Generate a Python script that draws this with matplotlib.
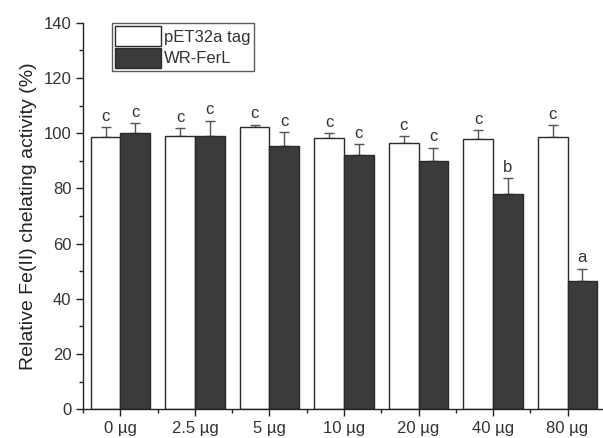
import matplotlib
matplotlib.use("Agg")
import matplotlib.pyplot as plt
import numpy as np
from matplotlib.ticker import MultipleLocator, FixedLocator

plt.rcParams['font.family'] = ['Liberation Sans', 'DejaVu Sans']

categories = ['0 µg', '2.5 µg', '5 µg', '10 µg', '20 µg', '40 µg', '80 µg']
pet_vals = [98.6, 99.1, 102.2, 98.2, 96.6, 97.8, 98.7]
pet_err = [3.6, 2.7, 0.8, 1.8, 2.3, 3.3, 4.1]
wr_vals = [99.9, 98.9, 95.4, 92.0, 89.9, 78.0, 46.4]
wr_err = [3.7, 5.7, 5.0, 4.0, 4.8, 5.7, 4.5]
pet_letters = ['c', 'c', 'c', 'c', 'c', 'c', 'c']
wr_letters = ['c', 'c', 'c', 'c', 'c', 'b', 'a']

txt = '#333333'
edge = '#2a2a2a'
dark = '#3b3b3b'

fig = plt.figure(figsize=(6.03, 4.38), dpi=100)
ax = fig.add_axes([0.138, 0.0655, 0.862, 0.8825])

x = np.arange(len(categories))
w = 0.4
ax.bar(x - w/2, pet_vals, w, color='white', edgecolor=edge, linewidth=1.0,
       label='pET32a tag', zorder=2)
ax.bar(x + w/2, wr_vals, w, color=dark, edgecolor=edge, linewidth=1.0,
       label='WR-FerL', zorder=2)
ax.errorbar(x - w/2, pet_vals, yerr=[np.zeros(len(pet_err)), pet_err], fmt='none',
            ecolor='#555555', elinewidth=1.0, capsize=3.5, capthick=1.0, zorder=1)
ax.errorbar(x + w/2, wr_vals, yerr=[np.zeros(len(wr_err)), wr_err], fmt='none',
            ecolor='#555555', elinewidth=1.0, capsize=3.5, capthick=1.0, zorder=1)

for xi, v, e, l in zip(x - w/2, pet_vals, pet_err, pet_letters):
    ax.annotate(l, (xi, v + e), xytext=(0, 2.5), textcoords='offset points',
                ha='center', va='bottom', fontsize=12, color=txt)
for xi, v, e, l in zip(x + w/2, wr_vals, wr_err, wr_letters):
    ax.annotate(l, (xi, v + e), xytext=(0, 2.5), textcoords='offset points',
                ha='center', va='bottom', fontsize=12, color=txt)

ax.set_ylim(0, 140)
ax.set_xlim(-0.5, 6.476)
ax.yaxis.set_major_locator(MultipleLocator(20))
ax.yaxis.set_minor_locator(MultipleLocator(10))
ax.set_xticks(x)
ax.set_xticklabels(categories)
ax.xaxis.set_minor_locator(FixedLocator(np.arange(-0.5, 7, 1.0)))

for s in ['top', 'right']:
    ax.spines[s].set_visible(False)
for s in ['left', 'bottom']:
    ax.spines[s].set_color('#222222')
    ax.spines[s].set_linewidth(1.0)

ax.tick_params(axis='both', which='major', direction='out', length=5, width=1.0,
               labelsize=12, labelcolor=txt, color='#222222')
ax.tick_params(axis='both', which='minor', direction='out', length=3, width=1.0,
               color='#222222')

ax.set_ylabel('Relative Fe(II) chelating activity (%)', fontsize=14, color='#222222', labelpad=5)

leg = ax.legend(loc='upper left', bbox_to_anchor=(0.0546, 1.0), fontsize=12,
                frameon=True, fancybox=False, handlelength=2.75, handleheight=1.45,
                labelspacing=0.12, handletextpad=0.2, borderpad=0.2, borderaxespad=0)
leg.get_frame().set_edgecolor('#333333')
leg.get_frame().set_linewidth(1.0)
for t in leg.get_texts():
    t.set_color(txt)

fig.savefig('out.png', dpi=100)
